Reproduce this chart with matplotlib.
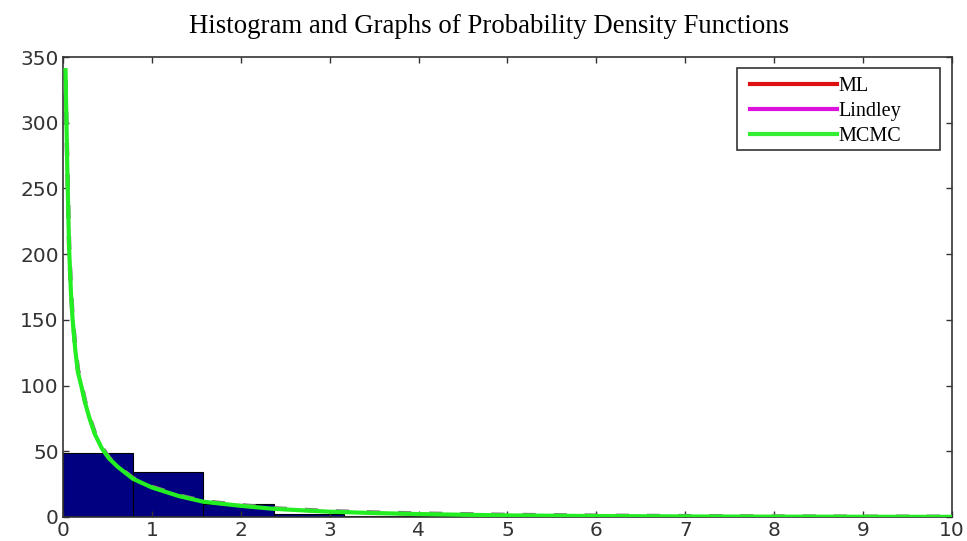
import matplotlib.pyplot as plt
from matplotlib.lines import Line2D
from matplotlib.patches import Rectangle

# histogram bins
bin_edges = [0, 0.79, 1.58, 2.37, 3.16, 3.95, 4.74, 5.53, 6.32, 7.11, 7.9]
counts = [49, 34, 10, 2, 1, 1, 0, 0, 0, 1]

# fitted density curves
x_pdf = [0.03, 0.05, 0.07, 0.09, 0.11, 0.14, 0.17, 0.21, 0.25, 0.30, 0.36, 0.44, 0.52,
         0.62, 0.79, 1.0, 1.3, 1.58, 2.0, 2.37, 3.0, 3.5, 4.0, 5.0, 6.0, 7.0, 8.0, 9.0, 10.0]
ml_pdf = [336, 263, 204, 171, 149, 127, 110, 99, 87, 75, 63, 52, 44.5,
          38, 29, 22.5, 16, 11.6, 8.5, 6.2, 4.0, 3.0, 2.2, 1.2, 0.7, 0.4, 0.25, 0.15, 0.1]
lindley_pdf = [332, 268, 208, 174, 152, 129, 112, 100.5, 88, 76, 64, 53, 45,
               38.5, 29.5, 23, 16.5, 12, 9, 6.6, 4.4, 3.4, 2.6, 1.6, 1.0, 0.6, 0.35, 0.2, 0.15]
mcmc_pdf = [340, 265, 205, 172, 150, 127, 110, 99, 87, 75, 63, 52, 44.5,
            38, 29, 22.5, 16, 11.6, 8.5, 6.2, 4.0, 3.0, 2.2, 1.2, 0.7, 0.4, 0.25, 0.15, 0.1]

fig = plt.figure(figsize=(9.67, 5.41), dpi=100)
ax = fig.add_axes([0.065, 0.0444, 0.9195, 0.8502])

lefts = bin_edges[:-1]
widths = [b - a for a, b in zip(bin_edges[:-1], bin_edges[1:])]
ax.bar(lefts, counts, width=widths, align='edge', color='#000080',
       edgecolor='black', linewidth=0.8, zorder=1)

ax.plot(x_pdf, ml_pdf, color='red', lw=2, zorder=2)
ax.plot(x_pdf, lindley_pdf, color='#8c7088', lw=3.2, ls='--', dashes=(3, 4), zorder=3)
ax.plot(x_pdf, mcmc_pdf, color='#22ee22', lw=3, zorder=4)

ax.set_xlim(0, 10)
ax.set_ylim(0, 350)
ax.set_xticks(range(0, 11))
ax.set_yticks(range(0, 351, 50))
ax.tick_params(direction='in', top=True, right=True, length=4, width=1,
               labelsize=14.5, labelcolor='#333333', color='#333333', pad=3)
for s in ax.spines.values():
    s.set_color('#333333')
    s.set_linewidth(1.2)

ax.set_title('Histogram and Graphs of Probability Density Functions',
             family='Liberation Serif', fontsize=19.3, pad=17, x=0.479)

# legend box drawn like the MATLAB one
W, H = 967, 541
fig.patches.append(Rectangle((737 / W, 1 - 150 / H), 203 / W, 82 / H,
                             transform=fig.transFigure, facecolor='white',
                             edgecolor='#333333', lw=1.2, zorder=5))
handles = [Line2D([], [], color='#dd1111', lw=3),
           Line2D([], [], color='#dd11dd', lw=3),
           Line2D([], [], color='#33ee33', lw=3)]
leg = fig.legend(handles, ['ML', 'Lindley', 'MCMC'], loc='upper left',
                 bbox_to_anchor=(750 / W, 1 - 77 / H), bbox_transform=fig.transFigure,
                 prop={'family': 'Liberation Serif', 'size': 14.5},
                 handlelength=4.3, handletextpad=0.1, labelspacing=0.28,
                 frameon=False, borderpad=0, borderaxespad=0)
leg.set_zorder(6)

plt.savefig('out.png', dpi=100)
plt.close()
